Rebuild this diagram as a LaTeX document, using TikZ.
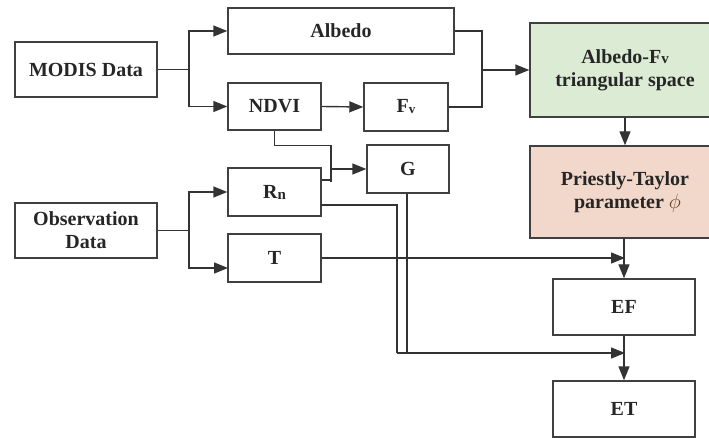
\documentclass[tikz,border=0pt]{standalone}
\usepackage{fontspec}
\setmainfont{Liberation Serif}
\usetikzlibrary{arrows.meta,calc}
\definecolor{boxgreen}{HTML}{DCEBD4}
\definecolor{boxpink}{HTML}{F2D8CA}
\begin{document}
\begin{tikzpicture}[x=1pt,y=-1pt,
  line width=1.4pt, draw=black!80,
  blk/.style={draw=black!75, line width=1.4pt, rectangle, align=center, inner sep=0pt,
    font=\fontsize{20}{23}\selectfont\bfseries, text=black!85},
  arr/.style={-{Triangle[length=14pt,width=11pt]}, black!80}]
\useasboundingbox (0,0) rectangle (709,438);
\clip (0,0) rectangle (709,438);
% nodes
\node[blk, minimum width=142pt, minimum height=55pt] (modis) at (86,69.5) {MODIS Data};
\node[blk, minimum width=226pt, minimum height=46pt] (albedo) at (341,31) {Albedo};
\node[blk, minimum width=93pt, minimum height=47pt] (ndvi) at (274.5,106.5) {NDVI};
\node[blk, minimum width=84pt, minimum height=48pt] (fv) at (406,107) {F\raisebox{-1pt}{\fontsize{13}{13}\selectfont v}};
\node[blk, fill=boxgreen, minimum width=190pt, minimum height=94pt] (tri) at (625,70) {Albedo-F\raisebox{0pt}{\fontsize{15}{15}\selectfont v}\\triangular space};
\node[blk, fill=boxpink, minimum width=190pt, minimum height=92pt] (pt) at (625,192) {Priestly-Taylor\\\ parameter \textcolor{brown!55!black}{$\phi$}};
\node[blk, minimum width=82pt, minimum height=48pt] (g) at (408,169) {G};
\node[blk, minimum width=93pt, minimum height=48pt] (rn) at (274.5,192) {R\raisebox{-1pt}{\fontsize{15}{15}\selectfont n}};
\node[blk, minimum width=93pt, minimum height=48pt] (t) at (274.5,258) {T};
\node[blk, minimum width=142pt, minimum height=55pt] (obs) at (86,230.5) {Observation\\Data};
\node[blk, minimum width=142pt, minimum height=56pt] (ef) at (624,307) {EF};
\node[blk, minimum width=142pt, minimum height=56pt] (et) at (624,409) {ET};
% junction coordinates
\coordinate (j1) at (189,69.5);
\coordinate (j2) at (482,70);
\coordinate (j3) at (331,169);
\coordinate (j4) at (189,230.5);
\coordinate (rnout) at (321,205);
\coordinate (tin) at (228,268);
\coordinate (fa) at (625,258);
\coordinate (fb) at (625,353);
% MODIS branches
\draw (modis.east) -- (j1);
\draw[arr] (j1) |- (albedo.west);
\draw[arr] (j1) |- (ndvi.west);
% albedo + fv merge
\draw (albedo.east) -| (j2);
\draw (fv.east) -| (j2);
\draw[arr] (j2) -- (tri.west);
\draw[arr] (ndvi.east) -- (fv.west);
% NDVI and Rn to G
\draw (ndvi.south) -- ++(0,15) -| (331,182);
\draw (rn.east |- 0,180) -- (331,180);
\draw[arr] (j3) -- (g.west);
% Observation branches
\draw (obs.east) -- (j4);
\draw[arr] (j4) |- (rn.west);
\draw[arr] (j4) |- (tin);
% right column
\draw[arr] (tri.south) -- (pt.north);
\draw[arr] (pt.south -| ef.north) -- (ef.north);
\draw[arr] (ef.south) -- (et.north);
% T to EF
\draw[arr] (t.east) -- (fa);
% Rn and G to ET
\draw (rnout) -- (397,205) -- (397,353);
\draw (g.south -| 407,0) -- (407,353);
\draw[arr] (397,353) -- (fb);
\end{tikzpicture}
\end{document}
